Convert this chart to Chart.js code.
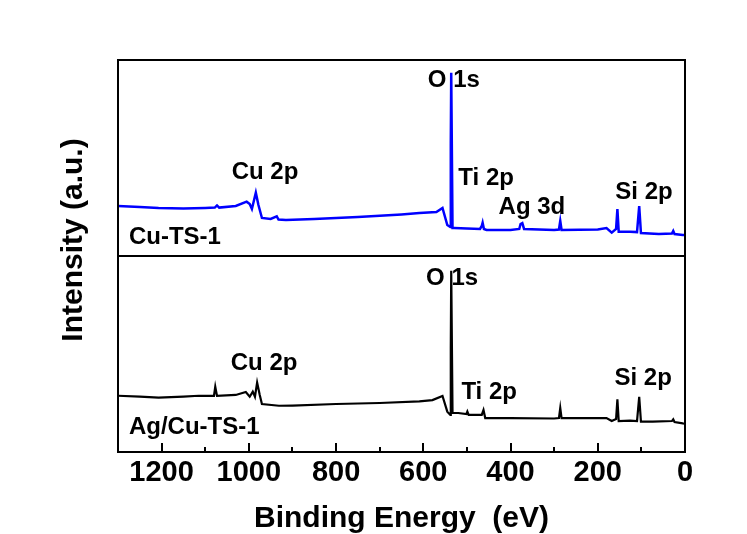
<!DOCTYPE html>
<html>
<head>
<meta charset="utf-8">
<script src="https://cdn.jsdelivr.net/npm/chart.js@4/dist/chart.umd.min.js"></script>
<style>
  html, body { margin: 0; background: #fff; }
</style>
</head>
<body>
<canvas id="chXps" width="747" height="534"></canvas>
<script>
/* XPS survey spectra, two stacked panels sharing the binding-energy axis */
const FONT = '"Liberation Sans", Arial, sans-serif';

// Cu-TS-1 (top panel, blue) - binding energy (eV) / intensity (a.u.)
const cuEnergy = [1300, 1250, 1207, 1150, 1100, 1078, 1073, 1068, 1030, 1005, 998, 993, 984, 978, 970, 950, 936, 932, 915, 850, 750, 650, 609, 570, 556, 545, 538, 537, 536, 533, 529, 500, 470, 466, 464, 461, 455, 400, 380, 377, 373, 369, 300, 289, 286, 283, 200, 180, 168, 158, 155, 152, 126, 110, 105, 101, 60, 30, 27, 24, 5, 0];
const cuInt    = [25.5, 25.0, 24.5, 24.2, 24.5, 24.7, 25.8, 24.7, 25.5, 27.7, 26.5, 24.0, 32.3, 26.0, 19.4, 18.9, 20.2, 18.6, 18.4, 18.9, 19.9, 21.2, 21.9, 22.4, 24.5, 15.8, 14.8, 57.5, 93.5, 14.3, 14.3, 14.0, 13.8, 15.3, 17.0, 13.8, 13.3, 13.3, 13.8, 16.3, 16.8, 13.8, 13.3, 13.5, 17.9, 13.3, 13.5, 14.3, 11.9, 13.8, 24.0, 12.4, 12.4, 12.2, 25.5, 11.7, 11.2, 11.5, 12.8, 11.2, 10.7, 10.7];

// Ag/Cu-TS-1 (bottom panel, black)
const agEnergy = [1300, 1250, 1207, 1150, 1115, 1080, 1077, 1073, 1030, 1007, 998, 991, 986, 981, 975, 970, 931, 900, 800, 700, 609, 579, 556, 545, 538, 537, 536, 533, 520, 501, 499, 496, 466, 462, 458, 400, 300, 289, 286, 283, 200, 180, 168, 158, 155, 152, 126, 110, 105, 101, 74, 30, 27, 24, 5, 0];
const agInt    = [28.7, 28.3, 27.7, 28.3, 28.7, 28.6, 33.3, 28.6, 29.1, 30.6, 28.2, 30.8, 28.2, 35.4, 29.1, 24.5, 23.6, 23.7, 24.5, 25.0, 25.8, 26.5, 28.6, 20.6, 18.9, 53.6, 92.5, 19.9, 19.9, 19.4, 20.6, 18.9, 18.9, 21.4, 17.3, 17.3, 17.1, 17.3, 22.4, 17.3, 17.3, 17.3, 15.8, 16.8, 26.9, 15.8, 16.0, 15.8, 28.2, 15.5, 15.5, 15.8, 16.7, 15.3, 14.6, 14.5];

// peak labels: text, anchor energy (eV), anchor intensity (a.u.)
const cuNotes   = ['Cu 2p', 'O 1s', 'Ti 2p', 'Ag 3d', 'Si 2p'];
const cuNoteEV  = [963, 530, 456, 351, 94];
const cuNoteY   = [42.9, 89.8, 39.8, 25.0, 32.7];
const agNotes   = ['Cu 2p', 'O 1s', 'Ti 2p', 'Si 2p'];
const agNoteEV  = [965, 534, 449, 96];
const agNoteY   = [45.4, 88.8, 30.6, 37.8];
const sampleNames = ['Cu-TS-1', 'Ag/Cu-TS-1'];
const sampleEV  = 1275;
const sampleY   = [9.7, 12.8];

const X_MIN = 0, X_MAX = 1300, X_STEP = 200, X_MINOR = 100;

const pts = (xs, ys) => xs.map((x, i) => ({ x, y: ys[i] }));

const yPanel = () => ({
  type: 'linear', position: 'left', stack: 'xps', stackWeight: 1,
  min: 0, max: 100,
  ticks: { display: false },
  grid: { display: false, drawTicks: false },
  border: { display: false },
  afterFit: s => { s.width = 118; }
});

// box, panel divider and inward ticks on the bottom axis
const framePlugin = {
  id: 'frame',
  afterDraw(chart) {
    const { ctx, chartArea: a, scales } = chart;
    ctx.save();
    ctx.strokeStyle = '#000';
    ctx.lineWidth = 2;
    ctx.strokeRect(a.left, a.top, a.right - a.left, a.bottom - a.top);
    ctx.beginPath();
    const yDiv = scales.yTop.bottom;
    ctx.moveTo(a.left, yDiv);
    ctx.lineTo(a.right, yDiv);
    ctx.stroke();
    ctx.beginPath();
    for (let v = X_MIN; v <= X_MAX; v += X_MINOR) {
      const px = Math.round(scales.x.getPixelForValue(v));
      const len = v % X_STEP === 0 ? 9 : 5;
      ctx.moveTo(px, a.bottom);
      ctx.lineTo(px, a.bottom - len);
    }
    ctx.stroke();
    ctx.restore();
  }
};

// peak / sample labels and the vertical axis title
const notesPlugin = {
  id: 'notes',
  afterDraw(chart) {
    const { ctx, scales, chartArea: a } = chart;
    const x = scales.x;
    ctx.save();
    ctx.fillStyle = '#000';
    ctx.font = 'bold 24px ' + FONT;
    ctx.textBaseline = 'middle';
    ctx.textAlign = 'center';
    cuNotes.forEach((t, i) => ctx.fillText(t, x.getPixelForValue(cuNoteEV[i]), scales.yTop.getPixelForValue(cuNoteY[i])));
    agNotes.forEach((t, i) => ctx.fillText(t, x.getPixelForValue(agNoteEV[i]), scales.yBot.getPixelForValue(agNoteY[i])));
    ctx.textAlign = 'left';
    ctx.fillText(sampleNames[0], x.getPixelForValue(sampleEV), scales.yTop.getPixelForValue(sampleY[0]));
    ctx.fillText(sampleNames[1], x.getPixelForValue(sampleEV), scales.yBot.getPixelForValue(sampleY[1]));

    ctx.font = 'bold 30px ' + FONT;
    ctx.textAlign = 'center';
    ctx.translate(74, (a.top + a.bottom) / 2 - 16);
    ctx.rotate(-Math.PI / 2);
    ctx.fillText('Intensity (a.u.)', 0, 0);
    ctx.restore();
  }
};

new Chart(document.getElementById('chXps'), {
  type: 'line',
  data: {
    datasets: [
      { label: sampleNames[0], data: pts(cuEnergy, cuInt), yAxisID: 'yTop', borderColor: '#0000ff', borderWidth: 2.5, pointRadius: 0, tension: 0 },
      { label: sampleNames[1], data: pts(agEnergy, agInt), yAxisID: 'yBot', borderColor: '#000000', borderWidth: 2.2, pointRadius: 0, tension: 0 }
    ]
  },
  options: {
    responsive: false,
    animation: false,
    events: [],
    layout: { padding: { top: 60, right: 62, left: 0, bottom: 0 } },
    plugins: { legend: { display: false }, tooltip: { enabled: false } },
    scales: {
      x: {
        type: 'linear', position: 'bottom', reverse: true, min: X_MIN, max: X_MAX,
        grid: { display: false, drawTicks: false },
        border: { display: false },
        ticks: {
          stepSize: X_STEP, includeBounds: false, padding: 4, maxRotation: 0, autoSkip: false,
          color: '#000', font: { family: FONT, size: 29, weight: 'bold' },
          callback: v => String(v)
        },
        title: {
          display: true, text: 'Binding Energy  (eV)', color: '#000', padding: 0,
          font: { family: FONT, size: 30, weight: 'bold', lineHeight: 1 }
        },
        afterFit: s => { s.height = 82; }
      },
      yBot: yPanel(),
      yTop: yPanel()
    }
  },
  plugins: [framePlugin, notesPlugin]
});
</script>
</body>
</html>
